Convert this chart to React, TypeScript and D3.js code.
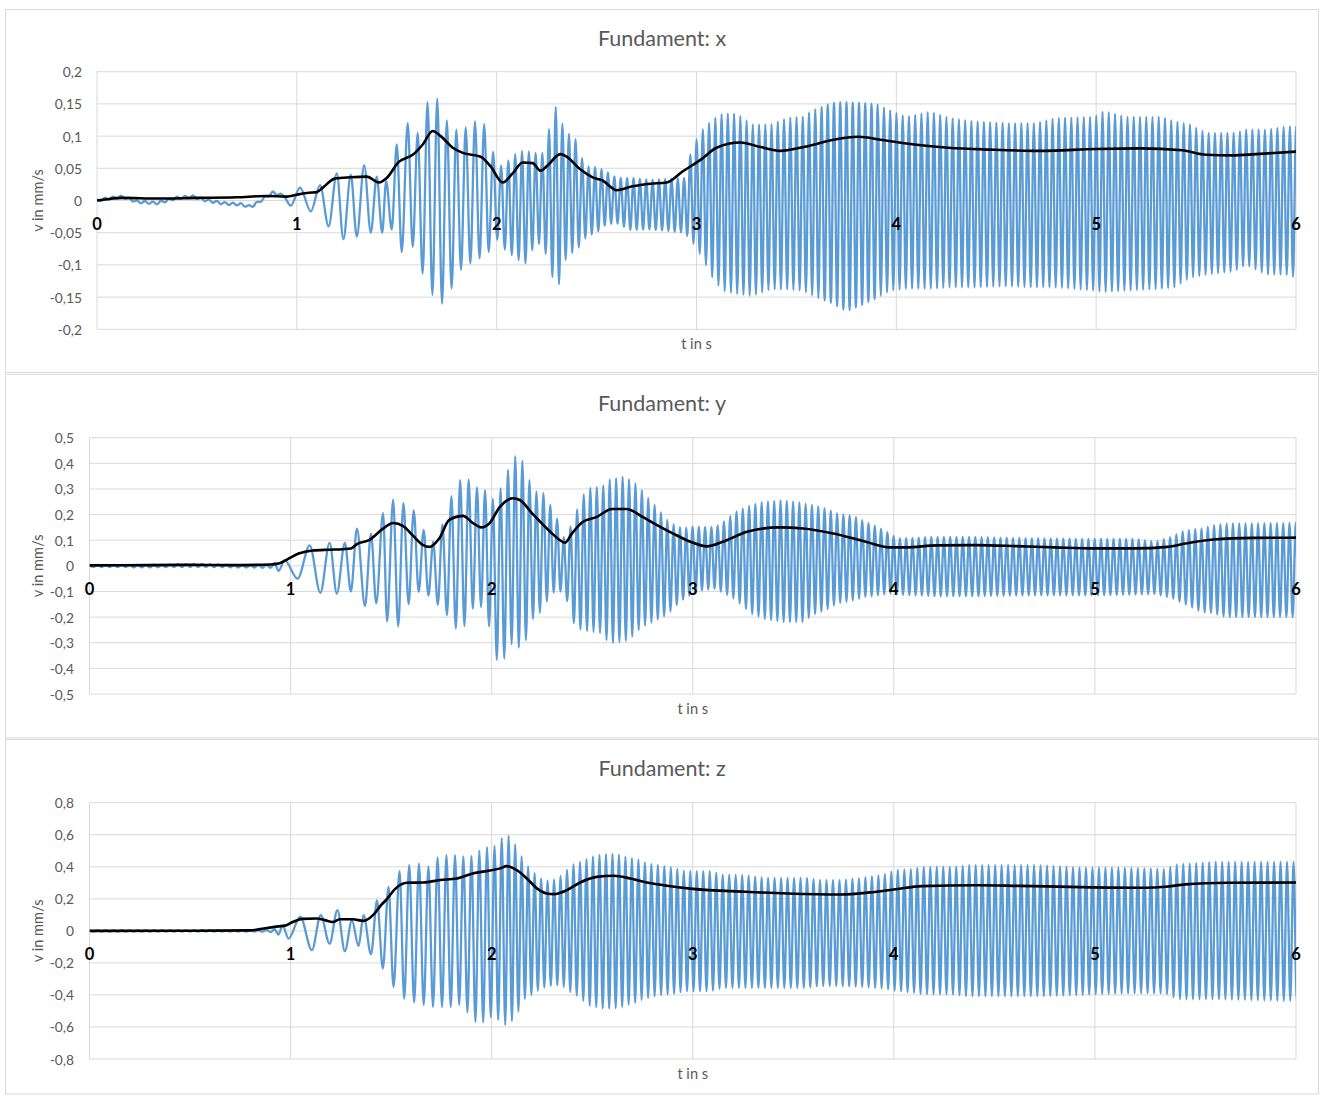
import React from 'react';
import * as d3 from 'd3';

// ---------- shared ----------
const timeTicks = [0, 1, 2, 3, 4, 5, 6];
const titles = ['Fundament: x', 'Fundament: y', 'Fundament: z'];
const yAxisTitle = 'v in mm/s';
const xAxisTitle = 't in s';

// ---------- panel x ----------
const xYTicks = [-0.2, -0.15, -0.1, -0.05, 0, 0.05, 0.1, 0.15, 0.2];
const xEnvT = [0, 0.05, 0.13, 0.2, 0.3, 0.4, 0.48, 0.55, 0.65, 0.72, 0.77, 0.82, 0.88, 0.93,
  1.6, 1.65, 1.7, 1.73, 1.77, 1.81, 1.86, 1.9, 1.94, 1.97, 2.0, 2.05, 2.1, 2.14, 2.19, 2.23, 2.26, 2.29, 2.32, 2.35, 2.39, 2.42, 2.45, 2.5, 2.55, 2.6, 2.67, 2.77, 2.94, 2.98, 3.03, 3.08, 3.13, 3.2, 3.28, 3.37, 3.45, 3.53, 3.58, 3.68, 3.75, 3.81, 3.9, 3.97, 4.05, 4.17, 4.27, 4.39, 4.55, 4.69, 4.8, 4.99, 5.04, 5.15, 5.33, 5.39, 5.47, 5.55, 5.69, 5.75, 5.85, 5.95, 6.0, 6.1];
const xEnvUp = [0.002, 0.005, 0.008, 0.0, -0.002, 0.006, 0.008, 0.002, -0.003, -0.004, -0.008, 0.002, 0.014, 0.01,
  0.1, 0.152, 0.16, 0.14, 0.11, 0.11, 0.115, 0.125, 0.118, 0.093, 0.05, 0.06, 0.074, 0.078, 0.074, 0.074, 0.108, 0.15, 0.125, 0.105, 0.1, 0.07, 0.053, 0.052, 0.045, 0.035, 0.035, 0.032, 0.035, 0.085, 0.11, 0.126, 0.135, 0.135, 0.118, 0.118, 0.128, 0.13, 0.14, 0.152, 0.153, 0.152, 0.15, 0.14, 0.13, 0.138, 0.128, 0.123, 0.12, 0.12, 0.128, 0.13, 0.139, 0.13, 0.13, 0.123, 0.118, 0.105, 0.105, 0.11, 0.11, 0.115, 0.115, 0.115];
const xEnvLo = [-0.002, 0.001, 0.004, -0.004, -0.006, 0.002, 0.004, -0.002, -0.007, -0.008, -0.012, -0.002, 0.01, 0.006,
  -0.09, -0.13, -0.16, -0.16, -0.14, -0.11, -0.1, -0.09, -0.09, -0.075, -0.06, -0.08, -0.09, -0.1, -0.07, -0.065, -0.1, -0.13, -0.13, -0.085, -0.08, -0.07, -0.056, -0.05, -0.037, -0.035, -0.046, -0.045, -0.05, -0.065, -0.09, -0.12, -0.14, -0.145, -0.148, -0.138, -0.138, -0.14, -0.148, -0.16, -0.172, -0.165, -0.152, -0.14, -0.137, -0.137, -0.135, -0.135, -0.133, -0.135, -0.135, -0.14, -0.142, -0.14, -0.137, -0.135, -0.12, -0.115, -0.11, -0.1, -0.115, -0.115, -0.12, -0.12];
const xFreqT = [0, 0.95, 1.5, 1.55, 1.95, 2.05, 2.5, 3.0, 6.1];
const xFreqHz = [25, 25, 20, 20, 22, 29, 31, 32, 32];
const xEarlyT = [0.97, 1.016, 1.07, 1.116, 1.159, 1.2, 1.233, 1.27, 1.3, 1.337, 1.37, 1.4, 1.427, 1.447, 1.475, 1.5, 1.525, 1.555, 1.58];
const xEarlyV = [-0.008, 0.02, -0.017, 0.024, -0.04, 0.042, -0.06, 0.04, -0.056, 0.055, -0.05, 0.037, -0.05, 0.03, -0.045, 0.087, -0.08, 0.12, -0.072];
const xRmsT = [0, 0.05, 0.13, 0.3, 0.5, 0.7, 0.85, 0.95, 1.0, 1.06, 1.1, 1.13, 1.19, 1.27, 1.35, 1.41, 1.45, 1.51, 1.58, 1.63, 1.68, 1.72, 1.78, 1.83, 1.92, 1.97, 2.03, 2.08, 2.13, 2.18, 2.22, 2.25, 2.32, 2.35, 2.42, 2.48, 2.53, 2.6, 2.68, 2.77, 2.85, 2.93, 3.02, 3.1, 3.22, 3.32, 3.42, 3.55, 3.68, 3.81, 3.93, 4.09, 4.26, 4.47, 4.72, 5.0, 5.22, 5.43, 5.55, 5.68, 5.8, 6.0];
const xRmsV = [0.0, 0.002, 0.004, 0.003, 0.004, 0.005, 0.007, 0.006, 0.009, 0.012, 0.013, 0.02, 0.034, 0.036, 0.037, 0.028, 0.035, 0.06, 0.071, 0.087, 0.108, 0.1, 0.082, 0.074, 0.068, 0.053, 0.028, 0.042, 0.059, 0.058, 0.046, 0.053, 0.072, 0.068, 0.048, 0.036, 0.031, 0.016, 0.022, 0.026, 0.028, 0.045, 0.063, 0.082, 0.09, 0.083, 0.077, 0.084, 0.094, 0.099, 0.094, 0.087, 0.082, 0.079, 0.077, 0.08, 0.081, 0.078, 0.071, 0.07, 0.072, 0.076];

// ---------- panel y ----------
const yYTicks = [-0.5, -0.4, -0.3, -0.2, -0.1, 0, 0.1, 0.2, 0.3, 0.4, 0.5];
const yEnvT = [0, 0.3, 0.55, 0.7, 0.9,
  1.56, 1.585, 1.61, 1.654, 1.69, 1.73, 1.775, 1.81, 1.84, 1.857, 1.877, 1.9, 1.94, 1.98, 2.007, 2.043, 2.08, 2.103, 2.136, 2.157, 2.19, 2.22, 2.255, 2.29, 2.336, 2.364, 2.39, 2.418, 2.45, 2.48, 2.55, 2.58, 2.62, 2.667, 2.695, 2.72, 2.753, 2.786, 2.82, 2.85, 2.88, 2.91, 2.95, 3.0, 3.05, 3.11, 3.15, 3.21, 3.29, 3.35, 3.45, 3.55, 3.6, 3.66, 3.72, 3.8, 3.86, 3.92, 3.98, 4.02, 4.2, 4.41, 4.7, 5.0, 5.2, 5.3, 5.38, 5.45, 5.53, 5.59, 5.65, 6.1];
const yEnvUp = [0.004, 0.004, 0.008, 0.004, 0.004,
  0.245, 0.23, 0.22, 0.154, 0.09, 0.1, 0.21, 0.297, 0.33, 0.355, 0.34, 0.33, 0.295, 0.295, 0.26, 0.3, 0.372, 0.414, 0.447, 0.4, 0.33, 0.29, 0.287, 0.24, 0.167, 0.1, 0.15, 0.206, 0.27, 0.303, 0.31, 0.336, 0.342, 0.35, 0.33, 0.32, 0.29, 0.258, 0.23, 0.2, 0.173, 0.16, 0.147, 0.154, 0.152, 0.152, 0.17, 0.21, 0.237, 0.25, 0.256, 0.245, 0.237, 0.224, 0.205, 0.195, 0.172, 0.152, 0.126, 0.107, 0.113, 0.113, 0.107, 0.105, 0.105, 0.094, 0.113, 0.139, 0.146, 0.159, 0.165, 0.168];
const yEnvLo = [-0.004, -0.006, -0.004, -0.006, -0.008,
  -0.2, -0.152, -0.12, -0.09, -0.12, -0.15, -0.19, -0.224, -0.276, -0.25, -0.21, -0.17, -0.152, -0.2, -0.34, -0.393, -0.335, -0.3, -0.32, -0.335, -0.224, -0.19, -0.178, -0.107, -0.1, -0.1, -0.185, -0.243, -0.25, -0.255, -0.263, -0.3, -0.3, -0.293, -0.28, -0.257, -0.237, -0.225, -0.212, -0.2, -0.185, -0.16, -0.133, -0.11, -0.094, -0.09, -0.105, -0.13, -0.186, -0.206, -0.219, -0.219, -0.19, -0.173, -0.147, -0.135, -0.121, -0.115, -0.108, -0.112, -0.118, -0.118, -0.115, -0.115, -0.112, -0.11, -0.125, -0.15, -0.18, -0.185, -0.2, -0.2];
const yFreqT = [0, 0.95, 1.55, 1.6, 1.95, 2.1, 2.5, 3.0, 6.1];
const yFreqHz = [25, 25, 19, 20, 25, 28, 31, 32, 32];
const yEarlyT = [0.97, 1.035, 1.095, 1.148, 1.194, 1.23, 1.27, 1.3, 1.33, 1.37, 1.4, 1.426, 1.46, 1.48, 1.51, 1.535];
const yEarlyV = [0.022, -0.05, 0.08, -0.105, 0.09, -0.108, 0.09, -0.1, 0.145, -0.157, 0.126, -0.146, 0.206, -0.217, 0.258, -0.236];
const yRmsT = [0, 0.3, 0.5, 0.7, 0.9, 0.945, 0.99, 1.04, 1.11, 1.19, 1.26, 1.3, 1.33, 1.39, 1.46, 1.51, 1.56, 1.61, 1.657, 1.69, 1.74, 1.79, 1.857, 1.907, 1.948, 1.99, 2.04, 2.106, 2.14, 2.2, 2.29, 2.34, 2.364, 2.4, 2.454, 2.52, 2.6, 2.67, 2.753, 2.82, 2.9, 2.985, 3.07, 3.15, 3.27, 3.43, 3.55, 3.7, 3.86, 3.98, 4.06, 4.215, 4.41, 4.61, 4.8, 5.0, 5.2, 5.36, 5.45, 5.59, 5.79, 6.0];
const yRmsV = [0.002, 0.003, 0.004, 0.003, 0.005, 0.01, 0.028, 0.048, 0.06, 0.063, 0.065, 0.068, 0.085, 0.1, 0.145, 0.167, 0.155, 0.117, 0.082, 0.074, 0.108, 0.18, 0.195, 0.167, 0.15, 0.167, 0.229, 0.264, 0.257, 0.206, 0.134, 0.1, 0.09, 0.127, 0.172, 0.19, 0.222, 0.222, 0.19, 0.16, 0.127, 0.095, 0.076, 0.094, 0.133, 0.15, 0.146, 0.126, 0.094, 0.072, 0.072, 0.08, 0.081, 0.077, 0.072, 0.068, 0.068, 0.074, 0.087, 0.103, 0.109, 0.11];

// ---------- panel z ----------
const zYTicks = [-0.8, -0.6, -0.4, -0.2, 0, 0.2, 0.4, 0.6, 0.8];
const zEnvT = [0, 0.85, 0.92,
  1.59, 1.64, 1.69, 1.737, 1.8, 1.843, 1.885, 1.926, 1.965, 2.0, 2.036, 2.054, 2.07, 2.09, 2.105, 2.125, 2.142, 2.158, 2.175, 2.205, 2.238, 2.27, 2.3, 2.33, 2.36, 2.39, 2.42, 2.452, 2.482, 2.515, 2.545, 2.59, 2.636, 2.667, 2.712, 2.742, 2.772, 2.835, 2.896, 2.96, 3.09, 3.15, 3.26, 3.36, 3.57, 3.63, 3.74, 3.84, 3.95, 4.01, 4.09, 4.14, 4.3, 4.37, 4.72, 4.93, 5.14, 5.35, 5.41, 5.6, 6.1];
const zEnvUp = [0.004, 0.004, 0.01,
  0.41, 0.42, 0.4, 0.467, 0.475, 0.47, 0.456, 0.49, 0.525, 0.517, 0.55, 0.5875, 0.59, 0.594, 0.56, 0.525, 0.48, 0.446, 0.41, 0.37, 0.33, 0.312, 0.315, 0.33, 0.36, 0.4, 0.425, 0.435, 0.455, 0.47, 0.475, 0.483, 0.475, 0.462, 0.45, 0.44, 0.42, 0.41, 0.394, 0.373, 0.373, 0.35, 0.348, 0.33, 0.33, 0.317, 0.317, 0.33, 0.352, 0.379, 0.385, 0.4, 0.4, 0.41, 0.41, 0.394, 0.394, 0.385, 0.415, 0.431, 0.431];
const zEnvLo = [-0.004, -0.004, -0.01,
  -0.44, -0.454, -0.475, -0.475, -0.475, -0.46, -0.517, -0.579, -0.569, -0.537, -0.558, -0.575, -0.59, -0.575, -0.558, -0.52, -0.485, -0.44, -0.402, -0.4, -0.365, -0.35, -0.342, -0.34, -0.35, -0.381, -0.402, -0.433, -0.465, -0.475, -0.485, -0.485, -0.482, -0.465, -0.45, -0.433, -0.42, -0.402, -0.395, -0.377, -0.377, -0.356, -0.356, -0.356, -0.356, -0.344, -0.344, -0.35, -0.36, -0.375, -0.385, -0.395, -0.398, -0.408, -0.408, -0.4, -0.39, -0.39, -0.427, -0.427, -0.44];
const zFreqT = [0, 0.95, 1.56, 1.7, 2.0, 2.1, 3.0, 6.1];
const zFreqHz = [25, 25, 20, 22, 27, 31, 31, 31];
const zEarlyT = [0.99, 1.048, 1.106, 1.15, 1.194, 1.233, 1.27, 1.305, 1.338, 1.363, 1.4, 1.43, 1.459, 1.487, 1.512, 1.542, 1.565];
const zEarlyV = [-0.048, 0.088, -0.12, 0.098, -0.08, 0.13, -0.127, 0.066, -0.094, 0.098, -0.146, 0.19, -0.235, 0.275, -0.35, 0.373, -0.423];
const zRmsT = [0, 0.5, 0.8, 0.84, 0.92, 0.98, 1.01, 1.06, 1.13, 1.17, 1.21, 1.245, 1.31, 1.363, 1.41, 1.45, 1.48, 1.52, 1.578, 1.66, 1.744, 1.827, 1.91, 1.976, 2.043, 2.075, 2.125, 2.175, 2.225, 2.274, 2.308, 2.374, 2.44, 2.523, 2.606, 2.689, 2.772, 2.855, 3.0, 3.26, 3.47, 3.74, 3.88, 4.01, 4.14, 4.41, 4.62, 4.93, 5.25, 5.35, 5.45, 5.66, 6.0];
const zRmsV = [0.0, 0.001, 0.003, 0.009, 0.025, 0.035, 0.055, 0.075, 0.077, 0.067, 0.055, 0.072, 0.072, 0.062, 0.098, 0.16, 0.2, 0.262, 0.3, 0.302, 0.317, 0.327, 0.36, 0.373, 0.39, 0.404, 0.379, 0.327, 0.265, 0.233, 0.229, 0.254, 0.302, 0.337, 0.344, 0.327, 0.302, 0.285, 0.262, 0.244, 0.233, 0.227, 0.24, 0.26, 0.279, 0.285, 0.281, 0.273, 0.269, 0.275, 0.29, 0.3, 0.302];

// ---------- layout (positions only) ----------
const LAYOUT = [
  { frameTop: 9.5, frameBottom: 372.5, left: 97, right: 1296, top: 71.7, bottom: 329.3, titleY: 38, labelRight: 82 },
  { frameTop: 374.5, frameBottom: 738, left: 89.5, right: 1296, top: 437.7, bottom: 694, titleY: 403, labelRight: 74 },
  { frameTop: 739.5, frameBottom: 1094, left: 89.5, right: 1296, top: 802.7, bottom: 1059, titleY: 768, labelRight: 74 },
];
const FRAME_LEFT = 5.5;
const FRAME_WIDTH = 1313;

const BLUE = '#5B9BD5';
const GRID = '#D9D9D9';
const TEXT = '#595959';
const FONT = 'Lato, Carlito, "Open Sans", sans-serif';

type Sig = {
  envT: number[]; envUp: number[]; envLo: number[];
  fT: number[]; fHz: number[];
  earlyT: number[]; earlyV: number[];
};

function buildSignal(s: Sig): [number, number][] {
  const up = d3.scaleLinear(s.envT, s.envUp).clamp(true);
  const lo = d3.scaleLinear(s.envT, s.envLo).clamp(true);
  const fr = d3.scaleLinear(s.fT, s.fHz).clamp(true);
  const pts: [number, number][] = [];
  const e0 = s.earlyT[0];
  const e1 = s.earlyT[s.earlyT.length - 1];
  let t = 0;
  let top = true;
  while (t < e0 - 0.5 / fr(t)) {
    pts.push([t, top ? up(t) : lo(t)]);
    t += 0.5 / fr(t);
    top = !top;
  }
  s.earlyT.forEach((tt, i) => pts.push([tt, s.earlyV[i]]));
  const last = s.earlyV[s.earlyV.length - 1];
  t = e1 + 0.5 / fr(e1);
  top = last < (up(t) + lo(t)) / 2;
  while (t <= 6.06) {
    pts.push([t, top ? up(t) : lo(t)]);
    t += 0.5 / fr(t);
    top = !top;
  }
  return pts;
}

const fmt = (v: number) => (Math.abs(v) < 1e-9 ? '0' : String(v).replace('.', ','));

function Panel({ idx, yTicks, sig, rmsT, rmsV }: { idx: number; yTicks: number[]; sig: Sig; rmsT: number[]; rmsV: number[] }) {
  const L = LAYOUT[idx];
  const x = d3.scaleLinear().domain([0, 6]).range([L.left, L.right]);
  const y = d3.scaleLinear().domain([yTicks[0], yTicks[yTicks.length - 1]]).range([L.bottom, L.top]);
  const pts = buildSignal(sig);
  const line = d3.line<[number, number]>().x(d => x(d[0])).y(d => y(d[1])).curve(d3.curveMonotoneX);
  const rms: [number, number][] = rmsT.map((t, i) => [t, rmsV[i]]);
  const clipId = `clip${idx}`;
  const zeroY = y(0);
  const midX = (L.left + L.right) / 2;
  const midY = (L.top + L.bottom) / 2;
  const frameMid = FRAME_LEFT + FRAME_WIDTH / 2;
  return (
    <g>
      <rect x={FRAME_LEFT} y={L.frameTop} width={FRAME_WIDTH} height={L.frameBottom - L.frameTop} fill="#fff" stroke={GRID} strokeWidth={1} />
      <defs>
        <clipPath id={clipId}>
          <rect x={L.left} y={L.frameTop} width={L.right - L.left} height={L.frameBottom - L.frameTop} />
        </clipPath>
      </defs>
      {yTicks.map(v => (
        <line key={'h' + v} x1={L.left} x2={L.right} y1={y(v)} y2={y(v)} stroke={GRID} strokeWidth={1} />
      ))}
      {timeTicks.map(t => (
        <line key={'v' + t} x1={x(t)} x2={x(t)} y1={L.top} y2={L.bottom} stroke={GRID} strokeWidth={1} />
      ))}
      <g clipPath={`url(#${clipId})`}>
        <path d={line(pts) || ''} fill="none" stroke={BLUE} strokeWidth={2.3} strokeLinejoin="round" />
        <path d={line(rms) || ''} fill="none" stroke="#000" strokeWidth={2.6} strokeLinejoin="round" />
      </g>
      {yTicks.map(v => (
        <text key={'yl' + v} x={L.labelRight} y={y(v)} textAnchor="end" dominantBaseline="central" fontSize={13.8} fill={TEXT} fontFamily={FONT}>
          {fmt(v)}
        </text>
      ))}
      {timeTicks.map(t => (
        <text key={'xl' + t} x={x(t)} y={zeroY + 23.5} textAnchor="middle" dominantBaseline="central" fontSize={16.5} fontWeight="bold" fill="#000" fontFamily={FONT}>
          {t}
        </text>
      ))}
      <text x={frameMid} y={L.titleY} textAnchor="middle" dominantBaseline="central" fontSize={21.5} fill={TEXT} fontFamily={FONT}>
        {titles[idx]}
      </text>
      <text x={midX} y={L.bottom + 14} textAnchor="middle" dominantBaseline="central" fontSize={14.6} fill={TEXT} fontFamily={FONT}>
        {xAxisTitle}
      </text>
      <text transform={`translate(37,${midY}) rotate(-90)`} textAnchor="middle" dominantBaseline="central" fontSize={14.6} fill={TEXT} fontFamily={FONT}>
        {yAxisTitle}
      </text>
    </g>
  );
}

export default function App() {
  const sigX: Sig = { envT: xEnvT, envUp: xEnvUp, envLo: xEnvLo, fT: xFreqT, fHz: xFreqHz, earlyT: xEarlyT, earlyV: xEarlyV };
  const sigY: Sig = { envT: yEnvT, envUp: yEnvUp, envLo: yEnvLo, fT: yFreqT, fHz: yFreqHz, earlyT: yEarlyT, earlyV: yEarlyV };
  const sigZ: Sig = { envT: zEnvT, envUp: zEnvUp, envLo: zEnvLo, fT: zFreqT, fHz: zFreqHz, earlyT: zEarlyT, earlyV: zEarlyV };
  return (
    <svg width={1324} height={1095} style={{ position: 'absolute', left: 0, top: 0, background: '#fff' }}>
      <rect x={0} y={0} width={1324} height={1095} fill="#fff" />
      <Panel idx={0} yTicks={xYTicks} sig={sigX} rmsT={xRmsT} rmsV={xRmsV} />
      <Panel idx={1} yTicks={yYTicks} sig={sigY} rmsT={yRmsT} rmsV={yRmsV} />
      <Panel idx={2} yTicks={zYTicks} sig={sigZ} rmsT={zRmsT} rmsV={zRmsV} />
    </svg>
  );
}
